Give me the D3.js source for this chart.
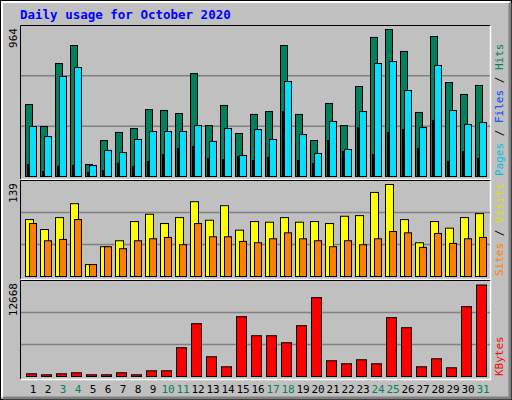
<!DOCTYPE html>
<html><head><meta charset="utf-8">
<script src="https://cdn.jsdelivr.net/npm/d3@7/dist/d3.min.js"></script>
<style>body{margin:0;background:#fff}svg{display:block}</style>
</head><body><svg id="c" width="512" height="400"></svg>
<script>
// daily figures
var days = d3.range(1, 32);
var weekend = [3, 4, 10, 11, 17, 18, 24, 25, 31];
var hits = [472,328,741,859,79,236,289,315,439,433,413,675,334,466,282,407,426,859,407,236,479,334,590,912,964,820,420,918,616,538,597];
var files = [328,262,656,715,72,171,157,243,295,295,295,334,230,315,138,308,243,623,275,151,361,177,426,741,754,564,321,728,433,341,354];
var pages = [79,33,66,72,26,39,85,66,98,144,184,197,118,111,131,105,125,426,105,85,236,164,321,144,289,308,184,367,98,164,118];
var visits = [86,71,89,110,18,45,54,83,94,80,89,113,85,107,70,83,82,89,82,83,80,91,92,127,139,86,51,83,73,89,95];
var sites = [80,54,56,86,18,45,42,54,57,59,48,80,60,60,53,51,57,66,57,54,45,54,48,57,68,66,44,65,50,57,59];
var kbytes = [375,236,375,513,236,236,513,236,790,790,3981,7310,2732,1345,8281,5645,5645,4674,7032,10916,2178,1761,2316,1761,8142,6755,1345,2455,1207,9667,12668];

var svg = d3.select("#c");
var mono = "DejaVu Sans Mono, monospace";

// frame
svg.append("rect").attr("x",0.5).attr("y",0.5).attr("width",511).attr("height",399).attr("fill","#c0c0c0").attr("stroke","#000");
svg.append("path").attr("d","M2,397V2H509").attr("fill","none").attr("stroke","#fff").attr("stroke-width",2);
svg.append("path").attr("d","M3,398H510V3").attr("fill","none").attr("stroke","#808080").attr("stroke-width",3);

svg.append("text").attr("x",20).attr("y",19).attr("font-family",mono).attr("font-weight","bold")
  .attr("font-size",12.5).attr("fill","#0000ff").text("Daily usage for October 2020");

var x = d3.scaleBand().domain(days).range([21, 486]).paddingInner(0);

function panel(top, bottom, base, maxY, label) {
  svg.append("rect").attr("x",20.5).attr("y",top+0.5).attr("width",470).attr("height",bottom-top)
    .attr("fill","#c0c0c0");
  svg.append("path").attr("d","M20.5,"+(bottom+0.5)+"V"+(top+0.5)+"H490.5").attr("fill","none").attr("stroke","#000");
  svg.append("path").attr("d","M20.5,"+(bottom+0.5)+"H490.5V"+(top+0.5)).attr("fill","none").attr("stroke","#fff").attr("stroke-width",1.5);
  var step = (base - top) / 3;
  [1,2].forEach(function(i){
    svg.append("line").attr("x1",21).attr("x2",490).attr("y1",top+step*i+0.5).attr("y2",top+step*i+0.5)
      .attr("stroke","#808080").attr("stroke-width",1.5);
  });
  svg.append("text").attr("transform","translate(17,"+(top+3)+") rotate(-90)").attr("text-anchor","end")
    .attr("font-family",mono).attr("font-size",11).attr("fill","#000").text(label);
}

function bars(data, scale, dx, w, color) {
  svg.append("g").selectAll("rect").data(data).enter().append("rect")
    .attr("x", function(d,i){ return x(days[i]) + dx + 0.5; })
    .attr("y", function(d){ return scale(d) + 0.5; })
    .attr("width", w)
    .attr("height", function(d){ return scale(0) - scale(d); })
    .attr("fill", color).attr("stroke","#000").attr("stroke-width",1);
}

// top panel
panel(25, 179, 176, 964, "964");
var y1 = d3.scaleLinear().domain([0,964]).range([176,29]);
bars(hits, y1, 4, 7, "#00805c");
bars(files, y1, 8, 7, "#00e0ff");
bars(pages, y1, 6, 1, "#0040ff");

// middle panel
panel(180, 279, 276, 139, "139");
var y2 = d3.scaleLinear().domain([0,139]).range([276,184]);
bars(visits, y2, 4, 8, "#ffff00");
bars(sites, y2, 8, 7, "#ff8000");

// bottom panel
panel(280, 379, 376, 12668, "12668");
var y3 = d3.scaleLinear().domain([0,12668]).range([376,284.5]);
bars(kbytes, y3, 5, 10, "#ff0000");

// day labels
svg.append("g").selectAll("text").data(days).enter().append("text")
  .attr("x", function(d){ return x(d) + 12; }).attr("y", 393).attr("text-anchor","middle")
  .attr("font-family",mono).attr("font-size",11)
  .attr("fill", function(d){ return weekend.indexOf(d) >= 0 ? "#00805c" : "#000"; })
  .text(function(d){ return d; });

// right side legends
function legend(yBottom, parts) {
  var t = svg.append("text").attr("transform","translate(503,"+yBottom+") rotate(-90)")
    .attr("font-family",mono).attr("font-size",11);
  parts.forEach(function(p){ t.append("tspan").attr("fill",p[1]).text(p[0]); });
}
legend(176, [["Pages","#00c0e0"],[" / ","#000"],["Files","#0040ff"],[" / ","#000"],["Hits","#00805c"]]);
legend(276, [["Sites","#ff8000"],[" / ","#000"],["Visits","#e0e000"]]);
legend(376, [["KBytes","#ff0000"]]);
</script></body></html>
